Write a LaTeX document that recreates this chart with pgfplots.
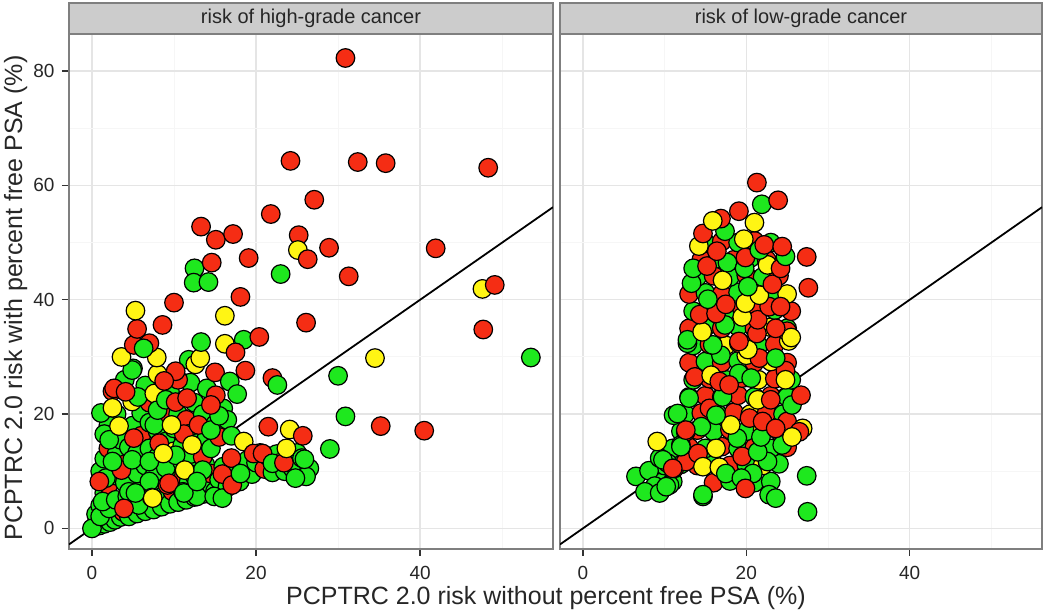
\documentclass[border=0pt]{standalone}
\usepackage{fontspec}
\setmainfont{Liberation Sans}
\usepackage{pgfplots}
\pgfplotsset{compat=1.18}
\usepackage{pgfplotstable}
\definecolor{ggreen}{RGB}{30,232,30}
\definecolor{gred}{RGB}{245,45,20}
\definecolor{gyellow}{RGB}{255,245,20}
\definecolor{gridmaj}{RGB}{229,229,229}
\definecolor{gridmin}{RGB}{246,246,246}
\definecolor{bord}{RGB}{127,127,127}
\definecolor{stripfill}{RGB}{204,204,204}

\pgfplotstableread{
x y c
0.3 0.3 gr
0.6 1.0 gr
0.9 0.5 gr
1.2 1.6 gr
1.5 0.8 gr
1.8 2.5 gr
2.2 1.1 gr
2.5 3.2 gr
2.8 1.5 gr
3.2 4.2 gr
3.5 2.0 gr
3.8 2.9 re
4.2 5.2 gr
4.5 2.1 gr
4.8 3.5 gr
5.2 6.2 gr
5.5 2.6 gr
5.8 4.2 ye
6.2 7.2 gr
6.5 3.0 gr
6.8 4.8 gr
7.2 6.2 re
7.5 3.3 gr
7.8 5.2 gr
8.2 7.2 gr
8.5 3.8 gr
8.8 5.8 gr
9.2 9.2 gr
9.5 4.3 gr
9.8 6.5 re
10.2 8.2 gr
10.5 4.6 gr
10.8 7.2 gr
11.2 9.2 re
11.5 5.0 gr
11.8 8.2 gr
12.2 10.6 gr
12.5 5.5 gr
12.8 7.5 ye
13.2 9.0 gr
13.5 6.0 gr
13.8 11.2 gr
14.2 7.8 gr
14.5 9.6 re
15.0 6.5 gr
15.5 8.5 gr
16.0 10.8 gr
16.5 7.2 gr
17.0 9.2 gr
17.5 11.2 gr
18.0 8.2 gr
18.5 10.3 re
19.0 12.0 gr
19.5 9.5 gr
20.0 11.5 gr
20.5 13.2 gr
21.0 10.4 re
21.5 12.6 gr
22.0 9.8 gr
22.5 13.0 gr
23.0 11.5 ye
23.5 10.0 gr
24.0 12.5 gr
24.5 10.4 gr
25.0 13.2 gr
26.5 10.5 gr
0.5 2.5 gr
1.0 4.0 gr
1.5 6.2 gr
2.0 7.6 re
1.0 10.0 gr
1.5 12.2 gr
2.0 14.0 re
3.0 9.2 gr
3.0 13.0 gr
3.5 15.5 gr
4.0 8.0 gr
4.0 11.2 re
4.5 14.2 gr
5.0 18.0 gr
5.5 9.6 gr
5.5 13.2 gr
6.0 16.2 re
6.0 20.2 gr
6.5 11.0 gr
7.0 14.0 gr
7.0 22.0 re
7.5 9.0 gr
8.0 12.5 gr
8.0 17.0 gr
8.5 20.0 re
9.0 10.6 gr
9.0 15.2 gr
9.5 24.0 gr
10.0 13.5 ye
10.0 17.5 gr
10.5 20.0 gr
11.0 11.6 gr
11.0 14.5 gr
11.5 19.0 re
12.0 13.0 gr
12.0 16.6 gr
12.5 22.0 gr
13.0 15.0 gr
13.5 12.5 re
13.5 20.0 gr
14.0 16.0 gr
14.5 14.0 gr
15.0 18.2 gr
15.5 16.0 re
16.0 21.0 gr
16.5 19.0 gr
17.0 16.2 gr
3.0 20.0 gr
4.0 26.0 gr
6.5 25.0 gr
8.0 27.0 ye
2.5 24.0 re
5.0 28.0 gr
7.0 18.5 gr
12.0 25.5 gr
10.5 26.0 re
14.0 24.5 gr
2.0 18.0 gr
1.5 16.5 gr
0.0 0.0 gr
1.0 2.1 gr
2.1 3.5 gr
1.3 4.7 gr
2.9 5.0 gr
4.3 5.6 gr
5.7 4.1 gr
4.5 6.4 gr
3.9 3.5 re
7.0 8.2 gr
11.1 6.4 gr
12.8 5.6 gr
12.4 9.4 gr
13.5 10.2 gr
14.9 5.6 gr
1.7 8.8 gr
0.9 8.2 re
7.3 5.4 ye
9.2 7.6 re
9.4 7.9 re
3.6 10.2 re
4.9 12.0 gr
7.0 11.7 gr
2.5 11.7 gr
10.2 12.8 gr
11.3 10.2 ye
8.2 14.9 re
8.7 13.1 ye
5.1 15.8 re
11.2 16.5 re
2.1 15.5 gr
12.2 14.6 ye
3.3 17.9 ye
7.6 18.1 gr
9.7 18.1 ye
13.0 18.1 re
14.5 17.2 gr
15.5 19.7 gr
11.2 6.2 gr
5.3 6.2 gr
15.9 5.3 gr
7.4 5.3 ye
12.8 8.2 gr
15.9 9.5 re
17.0 12.3 re
17.1 7.6 re
18.1 9.6 gr
18.5 15.2 ye
19.7 13.1 re
20.8 13.1 re
22.0 11.4 gr
23.4 11.5 re
23.7 14.0 ye
25.6 12.3 gr
26.1 9.1 gr
24.8 8.8 gr
21.5 17.8 re
24.1 17.3 ye
25.7 16.2 re
25.9 12.1 gr
29.0 13.9 gr
1.1 20.2 gr
2.5 21.1 ye
4.9 22.2 ye
5.6 23.0 gr
2.7 24.5 re
4.1 23.9 re
7.6 23.6 ye
8.0 20.7 gr
9.0 22.5 gr
10.2 22.1 re
11.6 22.8 re
15.1 23.3 re
14.5 21.6 re
4.9 27.7 gr
3.6 30.0 ye
7.9 29.9 ye
11.8 29.5 gr
12.6 28.7 ye
13.2 29.8 ye
15.0 27.3 re
10.2 27.5 re
8.8 25.8 re
18.7 27.6 re
16.8 25.7 gr
17.7 23.5 gr
22.0 26.3 re
22.6 25.1 gr
5.1 32.1 re
7.0 32.4 re
6.3 31.5 gr
5.5 34.9 re
8.6 35.6 re
13.3 32.6 gr
16.2 32.3 ye
18.5 33.0 gr
20.4 33.5 re
17.5 30.8 re
5.3 38.1 ye
10.0 39.5 re
18.1 40.5 re
16.2 37.2 ye
26.1 36.0 re
12.5 45.5 gr
12.4 43.0 gr
14.2 43.1 gr
14.6 46.5 re
19.1 47.3 re
23.0 44.5 gr
13.3 52.8 re
15.1 50.5 re
17.2 51.5 re
21.8 55.0 re
27.1 57.5 re
25.2 51.3 re
25.1 48.7 ye
26.3 47.1 re
28.9 49.1 re
31.3 44.1 re
24.2 64.3 re
32.4 64.1 re
35.8 63.9 re
48.3 63.1 re
30.9 82.3 re
41.9 49.0 re
47.6 41.9 ye
49.1 42.6 re
47.7 34.8 re
53.5 29.9 gr
34.5 29.8 ye
30.0 26.7 gr
30.9 19.6 gr
35.2 17.9 re
40.5 17.1 re
}\lefttab

\pgfplotstableread{
x y c
9.5 8.0 gr
11.0 8.2 gr
16.0 8.0 re
18.0 8.3 gr
21.0 8.0 gr
23.0 8.2 gr
10.0 11.0 gr
12.0 11.2 gr
14.0 11.0 re
16.0 11.3 gr
18.0 11.0 re
20.0 11.2 gr
22.0 11.0 ye
24.0 11.3 gr
11.0 14.0 gr
13.0 14.2 re
15.0 14.0 gr
17.0 14.3 re
19.0 14.0 gr
21.0 14.2 re
23.0 14.0 gr
25.0 14.2 re
12.0 17.0 gr
14.0 17.2 re
16.0 17.0 gr
18.0 17.3 re
20.0 17.0 gr
22.0 17.2 ye
24.0 17.0 re
26.0 17.2 gr
12.5 20.0 gr
14.5 20.2 re
16.5 20.0 gr
18.5 20.3 re
20.5 20.0 ye
22.5 20.2 re
24.5 20.0 gr
13.0 23.0 gr
15.0 23.2 re
17.0 23.0 ye
19.0 23.3 re
21.0 23.0 gr
23.0 23.2 re
25.0 23.0 gr
13.5 26.0 gr
15.5 26.2 re
17.5 26.0 gr
19.5 26.3 re
21.5 26.0 ye
23.5 26.2 re
25.5 26.0 gr
13.0 29.0 re
15.0 29.2 gr
17.0 29.0 re
19.0 29.3 gr
21.0 29.0 re
23.0 29.2 ye
25.0 29.0 re
13.5 32.0 gr
15.5 32.2 re
17.5 32.0 ye
19.5 32.3 re
21.5 32.0 gr
23.5 32.2 re
13.0 35.0 re
15.0 35.2 gr
17.0 35.0 re
19.0 35.3 gr
21.0 35.0 re
23.0 35.2 ye
25.0 35.0 gr
13.5 38.0 gr
15.5 38.2 re
17.5 38.0 gr
19.5 38.3 re
21.5 38.0 re
23.5 38.2 gr
25.5 38.0 re
13.0 41.0 re
15.0 41.2 gr
17.0 41.0 re
19.0 41.3 gr
21.0 41.0 re
23.0 41.2 gr
25.0 41.0 ye
14.0 44.0 gr
16.0 44.2 re
18.0 44.0 gr
20.0 44.3 re
22.0 44.0 gr
24.0 44.2 re
14.5 47.0 re
16.5 47.2 gr
18.5 47.0 re
20.5 47.3 gr
22.5 47.0 re
15.0 50.0 gr
17.0 50.2 re
19.0 50.0 gr
21.0 50.3 re
23.0 50.0 gr
6.5 9.1 gr
8.1 10.1 gr
8.8 7.4 gr
7.6 6.4 gr
9.4 6.2 gr
10.6 7.6 gr
9.4 12.3 gr
10.4 11.4 gr
11.2 10.5 re
12.6 11.7 re
14.1 13.1 re
12.0 14.6 gr
11.1 19.8 gr
14.7 5.6 gr
12.6 16.9 re
14.5 17.8 gr
9.1 15.2 ye
9.8 12.0 gr
10.2 7.3 gr
11.0 10.5 re
14.7 10.8 ye
16.7 10.7 ye
16.3 14.0 ye
12.0 14.3 gr
19.5 12.6 re
22.6 11.7 gr
21.4 13.4 gr
24.4 14.6 gr
18.9 15.8 gr
21.8 16.0 gr
17.5 9.6 gr
20.8 9.6 gr
19.4 8.8 gr
19.9 7.0 re
22.8 5.9 gr
23.6 5.3 gr
14.7 5.9 gr
27.4 9.2 gr
27.5 2.9 gr
18.1 18.1 ye
12.6 17.2 re
20.4 19.3 re
22.0 18.7 re
25.0 18.7 re
23.6 17.5 re
26.9 17.5 ye
26.5 16.9 re
25.6 16.0 ye
11.6 20.1 gr
15.5 21.0 re
16.3 19.8 gr
13.0 22.8 gr
17.1 23.0 gr
21.4 22.5 ye
23.0 22.5 re
25.6 21.6 gr
26.7 23.3 re
13.7 26.5 re
15.7 26.8 ye
16.7 25.7 re
19.1 27.1 gr
20.6 26.3 gr
17.9 25.1 re
24.8 27.6 re
24.8 26.0 ye
20.0 30.3 ye
16.9 30.3 gr
21.6 29.8 re
23.6 29.8 gr
12.8 32.4 gr
19.1 32.4 re
25.2 32.8 ye
20.2 31.3 ye
15.9 32.1 gr
19.1 32.7 re
12.8 33.0 gr
14.6 34.4 ye
21.3 34.1 re
25.0 34.5 re
25.5 33.4 ye
23.6 35.0 re
17.4 35.6 gr
21.4 36.5 re
14.3 37.4 re
16.3 37.6 re
19.5 37.0 ye
22.8 38.8 re
24.2 38.8 re
17.5 39.2 re
19.9 39.4 ye
15.3 40.1 gr
21.6 40.8 ye
13.3 42.9 gr
17.1 43.4 ye
20.2 42.3 gr
23.2 42.7 re
27.6 42.1 re
13.5 45.5 gr
15.2 45.9 re
17.7 46.5 gr
19.8 45.5 gr
22.6 46.1 ye
24.2 45.5 re
19.9 47.4 re
27.4 47.5 re
24.8 47.6 gr
16.4 48.5 re
21.6 48.7 gr
22.2 49.6 re
24.4 49.3 re
14.2 49.4 ye
19.7 50.6 ye
14.7 51.6 re
17.4 52.0 gr
16.9 54.2 re
15.9 53.8 ye
21.0 53.5 ye
19.1 55.5 re
21.9 56.7 gr
23.9 57.4 re
21.3 60.5 re
}\righttab

\pgfplotsset{
  panel/.style={
    scale only axis, height=515pt,
    xmin=-2.8, xmax=56.2, ymin=-3.6, ymax=86.5,
    xtick={0,20,40}, minor xtick={10,30,50},
    ytick={0,20,40,60,80}, minor ytick={10,30,50,70},
    grid=both,
    major grid style={gridmaj, line width=1.3pt},
    minor grid style={gridmin, line width=0.9pt},
    axis line style={bord, line width=1.4pt},
    tick align=outside, major tick length=7pt, minor tick length=0pt,
    major tick style={black!80, line width=1.3pt},
    xtick pos=left, ytick pos=left,
    ticklabel style={font=\fontsize{19}{19}\selectfont, text=black!85},
    /pgf/number format/assume math mode=true,
    xticklabel style={yshift=-7pt},
    yticklabel style={xshift=-4pt},
  },
  pts/.style={scatter, only marks, mark=*, mark size=9.3pt,
    scatter src=explicit symbolic,
    scatter/classes={
      gr={mark=*, draw=black, fill=ggreen, line width=1.2pt},
      ye={mark=*, draw=black, fill=gyellow, line width=1.2pt},
      re={mark=*, draw=black, fill=gred, line width=1.2pt}},
    mark options={line width=1.2pt}},
}

\begin{document}
\begin{tikzpicture}
\useasboundingbox (0,0) rectangle (1050pt,612pt);
\begin{axis}[panel, name=L, at={(69pt,63pt)}, anchor=south west, width=484pt]
\addplot[pts] table[x=x, y=y, meta=c] \lefttab;
\addplot[black, line width=1.8pt] coordinates {(-2.8,-2.8) (56.2,56.2)};
\end{axis}
\begin{axis}[panel, name=R, at={(560pt,63pt)}, anchor=south west, width=482pt,
  yticklabels={}, ytick style={draw=none}]
\addplot[pts] table[x=x, y=y, meta=c] \righttab;
\addplot[black, line width=1.8pt] coordinates {(-2.8,-2.8) (56.2,56.2)};
\end{axis}
\draw[bord, fill=stripfill, line width=1.4pt] (L.north west) rectangle ([yshift=31pt]L.north east);
\node[font=\fontsize{20}{20}\selectfont, text=black!85] at ([yshift=15.5pt]L.north) {risk of high-grade cancer};
\draw[bord, fill=stripfill, line width=1.4pt] (R.north west) rectangle ([yshift=31pt]R.north east);
\node[font=\fontsize{20}{20}\selectfont, text=black!85] at ([yshift=15.5pt]R.north) {risk of low-grade cancer};
\node[font=\fontsize{25}{25}\selectfont, text=black!85, anchor=base] at (546pt,7pt) {PCPTRC 2.0 risk without percent free PSA (\%)};
\node[font=\fontsize{25}{25}\selectfont, text=black!85, rotate=90, anchor=base] at (22pt,314pt) {PCPTRC 2.0 risk with percent free PSA (\%)};
\end{tikzpicture}
\end{document}
